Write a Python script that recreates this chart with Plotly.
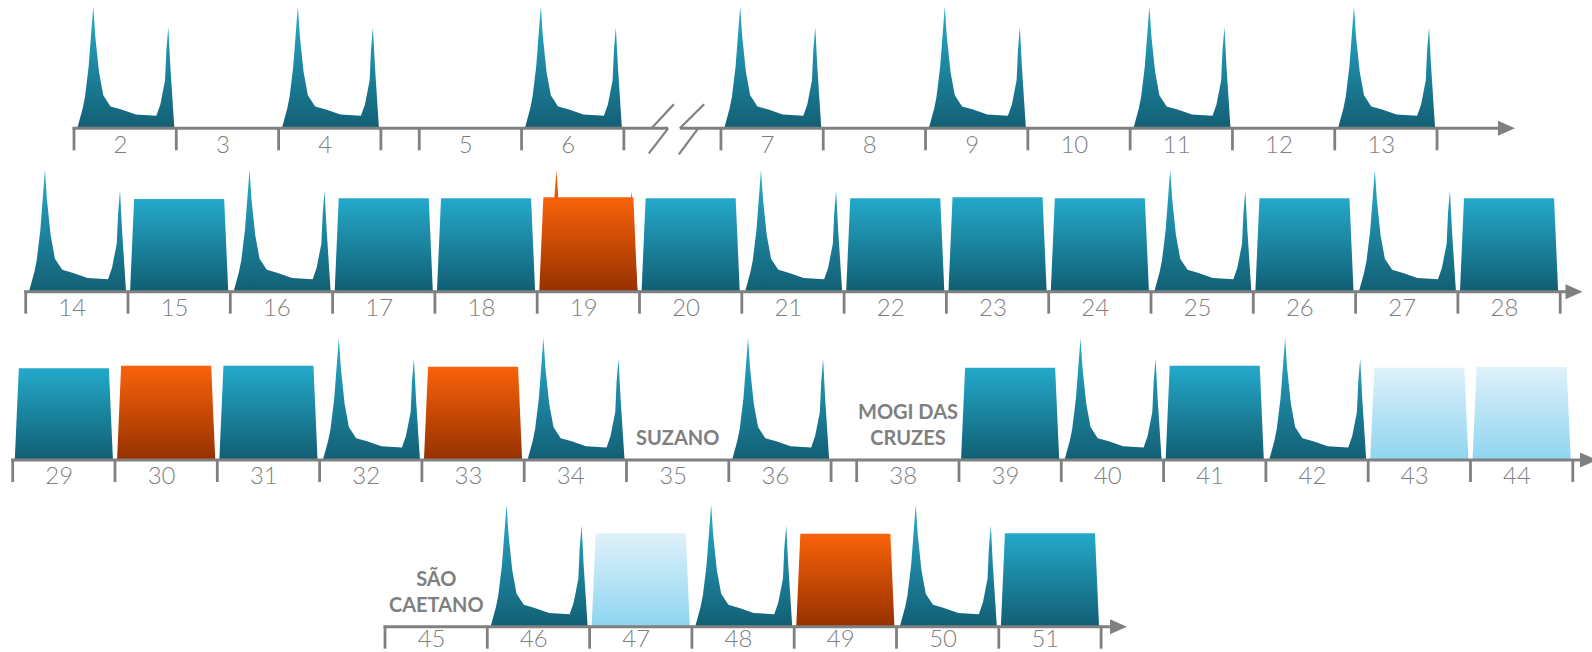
import plotly.graph_objects as go

# ---------------- data ----------------
row1_weeks = [2, 3, 4, 5, 6, 7, 8, 9, 10, 11, 12, 13]
row1_kinds = ["peak", "none", "peak", "none", "peak", "peak", "none", "peak", "none", "peak", "none", "peak"]
row1_values = [1.0, 0, 1.0, 0, 1.0, 1.0, 0, 1.0, 0, 1.0, 0, 1.0]

row2_weeks = [14, 15, 16, 17, 18, 19, 20, 21, 22, 23, 24, 25, 26, 27, 28]
row2_kinds = ["peak", "block", "peak", "block", "block", "orange_peak", "block", "peak",
              "block", "block", "block", "peak", "block", "peak", "block"]
row2_values = [1.0, 0.76, 1.0, 0.765, 0.765, 0.775, 0.765, 1.0, 0.765, 0.775, 0.765, 1.0, 0.765, 1.0, 0.765]

row3_weeks = [29, 30, 31, 32, 33, 34, 35, 36, 38, 39, 40, 41, 42, 43, 44]
row3_kinds = ["block", "orange", "block", "peak", "orange", "peak", "none", "peak", "none",
              "block", "peak", "block", "peak", "light", "light"]
row3_values = [0.752, 0.772, 0.772, 1.0, 0.765, 1.0, 0, 1.0, 0, 0.757, 1.0, 0.772, 1.0, 0.757, 0.762]

row4_weeks = [45, 46, 47, 48, 49, 50, 51]
row4_kinds = ["none", "peak", "light", "peak", "orange", "peak", "block"]
row4_values = [0, 1.0, 0.766, 1.0, 0.762, 1.0, 0.766]

station_weeks = [35, 38, 45]
station_names = ["SUZANO", "MOGI DAS<br>CRUZES", "SÃO<br>CAETANO"]

# daily profile of a "peak" week (fraction of slot, fraction of max height)
peak_profile_x = [0.032, 0.084, 0.107, 0.143, 0.188, 0.208, 0.244, 0.286, 0.357, 0.464,
                  0.604, 0.805, 0.844, 0.890, 0.903, 0.922, 0.942, 0.981]
peak_profile_y = [0.0, 0.160, 0.256, 0.504, 1.0, 0.752, 0.463, 0.270, 0.179, 0.154,
                  0.113, 0.102, 0.196, 0.394, 0.642, 0.829, 0.504, 0.0]

# ---------------- layout / style constants ----------------
FIG_W, FIG_H = 1592, 652
W = 102.3   # px per week slot
H = 122.0   # px per unit of height
rows_layout = [
    dict(origin=74.0, base=128.3, gaps={4: 0.375, 6: 0.949}, breaks=[6], tip=1515.0, lab=18.5),
    dict(origin=25.7, base=291.7, gaps={}, breaks=[], tip=1582.5, lab=18.5),
    dict(origin=12.7, base=460.0, gaps={36: 0.25}, breaks=[], tip=1597.0, lab=17.5),
    dict(origin=385.0, base=626.7, gaps={}, breaks=[], tip=1127.0, lab=14.5),
]
AXIS_COLOR = "#808080"
TEXT_COLOR = "#7f7f7f"
BLOCK_TRAP = ([0.02, 0.06, 0.94, 0.98], [0, 1, 1, 0])
SCALES = {
    "teal": [[0, "#115e73"], [1, "#24a9ca"]],
    "peak": [[0, "#125f74"], [1, "#2aaccc"]],
    "orange": [[0, "#953100"], [1, "#fa620a"]],
    "light": [[0, "#8ed5f0"], [1, "#dff1fa"]],
}

rows_data = [
    (row1_weeks, row1_kinds, row1_values),
    (row2_weeks, row2_kinds, row2_values),
    (row3_weeks, row3_kinds, row3_values),
    (row4_weeks, row4_kinds, row4_values),
]

fig = go.Figure()
annotations = []


def shape_trace(xs, ys, scale, xa, ya):
    return go.Scatter(
        x=xs, y=ys, xaxis=xa, yaxis=ya, mode="lines", fill="toself",
        fillgradient=dict(type="vertical", colorscale=SCALES[scale]),
        line=dict(width=0, color="rgba(0,0,0,0)"), hoverinfo="skip", showlegend=False,
    )


layout_axes = {}
for r, ((weeks, kinds, values), lay) in enumerate(zip(rows_data, rows_layout), start=1):
    xa = "x" if r == 1 else f"x{r}"
    ya = "y" if r == 1 else f"y{r}"
    xname = "xaxis" if r == 1 else f"xaxis{r}"
    yname = "yaxis" if r == 1 else f"yaxis{r}"
    layout_axes[xname] = dict(domain=[0, 1], range=[-lay["origin"] / W, (FIG_W - lay["origin"]) / W],
                              visible=False, anchor=ya, fixedrange=True)
    layout_axes[yname] = dict(domain=[0, 1], range=[-(FIG_H - lay["base"]) / H, lay["base"] / H],
                              visible=False, anchor=xa, fixedrange=True)

    # slot positions
    starts = []
    pos = 0.0
    for w in weeks:
        starts.append(pos)
        pos += 1.0 + lay["gaps"].get(w, 0.0)

    # marks
    for s, k, v in zip(starts, kinds, values):
        if k in ("peak", "orange_peak"):
            xs = [s + px for px in peak_profile_x]
            ys = [py * 1.0 for py in peak_profile_y]
            fig.add_trace(shape_trace(xs, ys, "peak" if k == "peak" else "orange", xa, ya))
        if k in ("block", "orange", "light", "orange_peak"):
            xs = [s + f for f in BLOCK_TRAP[0]]
            ys = [f * v for f in BLOCK_TRAP[1]]
            sc = {"block": "teal", "orange": "orange", "light": "light", "orange_peak": "orange"}[k]
            fig.add_trace(shape_trace(xs, ys, sc, xa, ya))

    # axis line (with break marks)
    tip = (lay["tip"] - lay["origin"]) / W
    head = 17.0 / W
    line_x = [-1.5 / W]
    line_y = [0]
    slash_x, slash_y = [], []
    for bw in lay["breaks"]:
        b0 = starts[weeks.index(bw)] + 1.0
        line_x += [b0 + 44.3 / W, None, b0 + 56.0 / W]
        line_y += [0, None, 0]
        for (x0, y0, x1, y1) in [(27.7, 0, 50.0, 24.0), (44.3, 0, 25.0, -25.0),
                                 (56.0, 0, 80.3, 24.0), (74.3, 0, 55.0, -26.0)]:
            slash_x += [b0 + x0 / W, b0 + x1 / W, None]
            slash_y += [y0 / H, y1 / H, None]
    line_x.append(tip - head + 0.01)
    line_y.append(0)
    fig.add_trace(go.Scatter(x=line_x, y=line_y, xaxis=xa, yaxis=ya, mode="lines",
                             line=dict(color=AXIS_COLOR, width=3), hoverinfo="skip", showlegend=False))
    if slash_x:
        fig.add_trace(go.Scatter(x=slash_x, y=slash_y, xaxis=xa, yaxis=ya, mode="lines",
                                 line=dict(color=AXIS_COLOR, width=2.2), hoverinfo="skip", showlegend=False))
    # arrow head
    fig.add_trace(go.Scatter(x=[tip, tip - head, tip - head, tip], y=[0, 7.5 / H, -7.5 / H, 0],
                             xaxis=xa, yaxis=ya, mode="lines", fill="toself", fillcolor=AXIS_COLOR,
                             line=dict(width=0, color=AXIS_COLOR), hoverinfo="skip", showlegend=False))

    # ticks
    tick_pos = []
    for s in starts:
        for t in (s, s + 1.0):
            if all(abs(t - q) > 1e-6 for q in tick_pos):
                tick_pos.append(t)
    tx, ty = [], []
    for t in tick_pos:
        tx += [t, t, None]
        ty += [1.0 / H, -22.0 / H, None]
    fig.add_trace(go.Scatter(x=tx, y=ty, xaxis=xa, yaxis=ya, mode="lines",
                             line=dict(color=AXIS_COLOR, width=2.8), hoverinfo="skip", showlegend=False))

    # week labels
    fig.add_trace(go.Scatter(
        x=[s + 0.5 - 0.045 for s in starts], y=[-lay["lab"] / H] * len(starts),
        xaxis=xa, yaxis=ya, mode="text", text=[str(w) for w in weeks],
        textposition="middle center", cliponaxis=False,
        textfont=dict(family="Lato, 'Open Sans', sans-serif", size=24, color=TEXT_COLOR, weight=300),
        hoverinfo="skip", showlegend=False))

    # station labels
    for sw, name in zip(station_weeks, station_names):
        if sw in weeks:
            s = starts[weeks.index(sw)]
            annotations.append(dict(
                x=s + 0.5, y=9.0 / H, xref=xa, yref=ya, text=f"<b>{name}</b>",
                showarrow=False, xanchor="center", yanchor="bottom", align="center",
                font=dict(family="Lato, 'Open Sans', sans-serif", size=20, color=TEXT_COLOR)))

fig.update_layout(
    width=FIG_W, height=FIG_H, autosize=False,
    margin=dict(l=0, r=0, t=0, b=0, pad=0),
    paper_bgcolor="white", plot_bgcolor="rgba(0,0,0,0)",
    showlegend=False, hovermode=False,
    annotations=annotations,
    **layout_axes,
)

fig.write_html("out.html", config={"displayModeBar": False},
               post_script="document.body.style.margin='0';document.body.style.overflow='hidden';")
